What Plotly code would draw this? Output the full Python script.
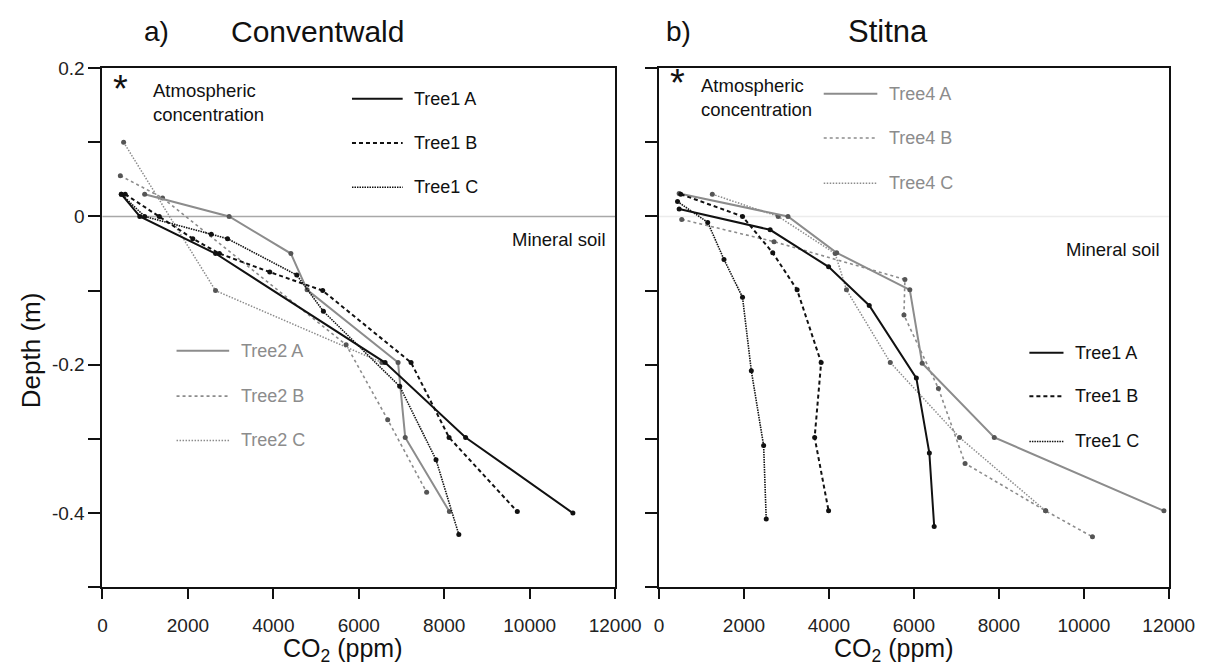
import plotly.graph_objects as go

# ---------------- data (CO2 ppm, depth m) ----------------
# a) Conventwald
conv_t1a_x = [441, 874, 2646, 6615, 8500, 11011]
conv_t1a_y = [0.03, 0.0, -0.05, -0.197, -0.298, -0.40]
conv_t1b_x = [532, 1330, 2114, 2737, 3916, 5155, 7223, 8113, 9710]
conv_t1b_y = [0.03, 0.0, -0.03, -0.05, -0.075, -0.10, -0.197, -0.298, -0.398]
conv_t1c_x = [441, 988, 2547, 2927, 4547, 5171, 6957, 7807, 8341]
conv_t1c_y = [0.03, 0.0, -0.024, -0.03, -0.079, -0.128, -0.229, -0.328, -0.429]
conv_t2a_x = [988, 2965, 4410, 4790, 6919, 7086, 8121]
conv_t2a_y = [0.03, 0.0, -0.05, -0.099, -0.197, -0.298, -0.398]
conv_t2b_x = [418, 1407, 5702, 6676, 7588]
conv_t2b_y = [0.055, 0.025, -0.173, -0.274, -0.372]
conv_t2c_x = [495, 2646, 6540]
conv_t2c_y = [0.10, -0.10, -0.197]

# b) Stitna
stit_t1a_x = [474, 2616, 3992, 4949, 6058, 6364, 6478]
stit_t1a_y = [0.01, -0.018, -0.068, -0.12, -0.218, -0.319, -0.418]
stit_t1b_x = [512, 1966, 2677, 3251, 3817, 3664, 3992]
stit_t1b_y = [0.03, 0.0, -0.049, -0.099, -0.197, -0.298, -0.397]
stit_t1c_x = [436, 1147, 1530, 1966, 2173, 2463, 2524]
stit_t1c_y = [0.02, -0.008, -0.058, -0.109, -0.208, -0.309, -0.408]
stit_t4a_x = [474, 3036, 4183, 5904, 6195, 7893, 11886]
stit_t4a_y = [0.031, 0.0, -0.049, -0.099, -0.198, -0.298, -0.397]
stit_t4b_x = [535, 2708, 5789, 5766, 6578, 7205, 9102, 10204]
stit_t4b_y = [-0.004, -0.034, -0.085, -0.133, -0.232, -0.333, -0.397, -0.432]
stit_t4c_x = [1255, 2806, 4146, 4413, 5445, 7074, 9102]
stit_t4c_y = [0.03, 0.0, -0.05, -0.099, -0.197, -0.298, -0.397]

x_ticks = [0, 2000, 4000, 6000, 8000, 10000, 12000]
x_tick_text = ["0", "2000", "4000", "6000", "8000", "10000", "12000"]
y_ticks = [0.2, 0.0, -0.2, -0.4]
y_tick_text = ["0.2", "0", "-0.2", "-0.4"]
y_minor_ticks = [0.1, -0.1, -0.3, -0.5]

panel_titles = ["Conventwald", "Stitna"]
panel_letters = ["a)", "b)"]
leg_t1 = ["Tree1 A", "Tree1 B", "Tree1 C"]
leg_t2 = ["Tree2 A", "Tree2 B", "Tree2 C"]
leg_t4 = ["Tree4 A", "Tree4 B", "Tree4 C"]

# ---------------- styles ----------------
W, H = 1224, 670
BLACK = "#111111"
GRAY = "#8c8c8c"
GRAYM = "#555555"
FONT = "Liberation Sans, Arial, sans-serif"

STY = {
    "A": dict(dash="solid", width=2.0),
    "B": dict(dash="4px,3px", width=2.0),
    "C": dict(dash="1.5px,1px", width=1.6),
}
GSTY = {
    "A": dict(dash="solid", width=2.0),
    "B": dict(dash="3px,3px", width=1.6),
    "C": dict(dash="1.5px,1.5px", width=1.5),
}


def px(x):
    return x / W


def py(y):
    return 1 - y / H


fig = go.Figure()


def add(xs, ys, key, gray, ax):
    st = (GSTY if gray else STY)[key]
    fig.add_trace(go.Scatter(
        x=xs, y=ys, mode="lines+markers", showlegend=False,
        xaxis=ax[0], yaxis=ax[1],
        line=dict(color=GRAY if gray else BLACK, width=st["width"], dash=st["dash"]),
        marker=dict(size=5, color=GRAYM if gray else BLACK),
    ))


L = ("x", "y")
R = ("x2", "y2")
add(conv_t2c_x, conv_t2c_y, "C", True, L)
add(conv_t2b_x, conv_t2b_y, "B", True, L)
add(conv_t2a_x, conv_t2a_y, "A", True, L)
add(conv_t1c_x, conv_t1c_y, "C", False, L)
add(conv_t1b_x, conv_t1b_y, "B", False, L)
add(conv_t1a_x, conv_t1a_y, "A", False, L)

add(stit_t4c_x, stit_t4c_y, "C", True, R)
add(stit_t4b_x, stit_t4b_y, "B", True, R)
add(stit_t4a_x, stit_t4a_y, "A", True, R)
add(stit_t1c_x, stit_t1c_y, "C", False, R)
add(stit_t1b_x, stit_t1b_y, "B", False, R)
add(stit_t1a_x, stit_t1a_y, "A", False, R)

ydom = [py(586), py(59)]
xcommon = dict(range=[0, 12000], tickmode="array", tickvals=x_ticks, ticktext=x_tick_text,
               showgrid=False, zeroline=False,
               showline=True, linecolor=BLACK, linewidth=2, mirror=True,
               ticks="outside", ticklen=10, tickwidth=1.5, tickcolor=BLACK,
               ticklabelstandoff=10,
               tickfont=dict(family=FONT, size=19, color="#222"))
ycommon = dict(range=[-0.5, 0.2], tickmode="array", tickvals=y_ticks, showgrid=False, zeroline=False,
               showline=True, linecolor=BLACK, linewidth=2, mirror=True,
               ticks="outside", ticklen=12, tickwidth=1.5, tickcolor=BLACK,
               minor=dict(tickmode="array", tickvals=y_minor_ticks, ticks="outside",
                          ticklen=12, tickwidth=1.5, tickcolor=BLACK, showgrid=False),
               tickfont=dict(family=FONT, size=19, color="#222"), domain=ydom)

fig.update_layout(
    width=W, height=H, autosize=False,
    margin=dict(l=0, r=0, t=0, b=0),
    paper_bgcolor="white", plot_bgcolor="white",
    font=dict(family=FONT, color="#111"),
    xaxis=dict(domain=[px(100), px(626)], anchor="y", **xcommon),
    yaxis=dict(anchor="x", ticktext=y_tick_text, **ycommon),
    xaxis2=dict(domain=[px(671), px(1194)], anchor="y2", **xcommon),
    yaxis2=dict(anchor="x2", showticklabels=False, **ycommon),
)

shapes = []
# soil surface lines
shapes.append(dict(type="line", xref="x domain", yref="y", x0=0, x1=1, y0=0, y1=0,
                   line=dict(color="#a8a8a8", width=1.5), layer="below"))
shapes.append(dict(type="line", xref="x2 domain", yref="y2", x0=0, x1=1, y0=0, y1=0,
                   line=dict(color="#ececec", width=1.5), layer="below"))

annos = []


def legend_block(labels, x0, x1, xt, ys, gray, sty):
    for lab, yy, key in zip(labels, ys, ["A", "B", "C"]):
        st = sty[key]
        shapes.append(dict(type="line", xref="paper", yref="paper",
                           x0=px(x0), x1=px(x1), y0=py(yy), y1=py(yy),
                           line=dict(color=GRAY if gray else BLACK, width=st["width"], dash=st["dash"])))
        annos.append(dict(text=lab, xref="paper", yref="paper", x=px(xt), y=py(yy),
                          xanchor="left", yanchor="middle", showarrow=False,
                          font=dict(family=FONT, size=18, color=GRAY if gray else "#111")))


legend_block(leg_t1, 356, 408, 418, [90, 135, 180], False, STY)
legend_block(leg_t2, 176, 230, 240, [346, 392, 437], True, GSTY)
legend_block(leg_t4, 840, 895, 905, [85, 130, 176], True, GSTY)
legend_block(leg_t1, 1051, 1086, 1096, [348, 392, 438], False, STY)


def text(t, x, y, size, xa="center", ya="middle", color="#111", angle=0, align="center"):
    annos.append(dict(text=t, xref="paper", yref="paper", x=px(x), y=py(y),
                      xanchor=xa, yanchor=ya, showarrow=False, textangle=angle, align=align,
                      font=dict(family=FONT, size=size, color=color)))


text(panel_letters[0], 155, 22, 28)
text(panel_titles[0], 321, 22, 30)
text(panel_letters[1], 691, 22, 28)
text(panel_titles[1], 906, 22, 31)
text("CO<sub>2</sub> (ppm)", 346, 650, 25)
text("CO<sub>2</sub> (ppm)", 912, 650, 25)
text("Depth (m)", 27, 345, 26, angle=-90)
text("*", 118, 80, 38)
text("*", 690, 74, 38)
text("Atmospheric<br>concentration", 150, 94, 18.5, xa="left", align="left")
text("Atmospheric<br>concentration", 712, 89, 18.5, xa="left", align="left")
text("Mineral soil", 619, 233, 18.5, xa="right")
text("Mineral soil", 1187, 243, 18.5, xa="right")

fig.update_layout(shapes=shapes, annotations=annos)
fig.write_html("out.html")
